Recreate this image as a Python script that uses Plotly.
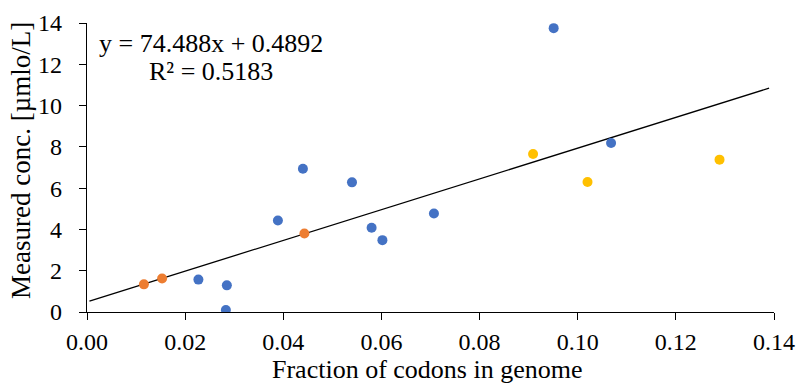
import plotly.graph_objects as go

# Data
blue_x = [0.0440, 0.0540, 0.0389, 0.0580, 0.0602, 0.0227, 0.0285, 0.0283, 0.0951, 0.1068, 0.0707]
blue_y = [6.94, 6.28, 4.43, 4.08, 3.48, 1.57, 1.29, 0.10, 13.75, 8.19, 4.77]
orange_x = [0.0116, 0.0153, 0.0443]
orange_y = [1.34, 1.62, 3.80]
yellow_x = [0.0909, 0.1020, 0.1289]
yellow_y = [7.65, 6.30, 7.38]

slope = 74.488
intercept = 0.4892
trend_x = [0.0005, 0.139]
trend_y = [slope * x + intercept for x in trend_x]

x_ticks = [0.00, 0.02, 0.04, 0.06, 0.08, 0.10, 0.12, 0.14]
y_ticks = [0, 2, 4, 6, 8, 10, 12, 14]

FONT = "Liberation Serif"

fig = go.Figure()
fig.add_trace(go.Scatter(x=trend_x, y=trend_y, mode="lines",
                         line=dict(color="black", width=1.3), hoverinfo="skip"))
for xs, ys, c in [(blue_x, blue_y, "#4472C4"), (orange_x, orange_y, "#ED7D31"),
                  (yellow_x, yellow_y, "#FFC000")]:
    fig.add_trace(go.Scatter(x=xs, y=ys, mode="markers",
                             marker=dict(color=c, size=10, line=dict(width=0))))

# Trendline equation and R²
fig.add_annotation(x=0.0252, y=13.0, xref="x", yref="y",
                   text="y = 74.488x + 0.4892", showarrow=False,
                   xanchor="center", yanchor="middle",
                   font=dict(family=FONT, size=26, color="black"))
fig.add_annotation(x=0.0252, y=11.65, xref="x", yref="y",
                   text="R² = 0.5183", showarrow=False,
                   xanchor="center", yanchor="middle",
                   font=dict(family=FONT, size=26, color="black"))

# Axis titles
fig.add_annotation(x=0.496, y=-0.198, xref="paper", yref="paper",
                   text="Fraction of codons in genome", showarrow=False,
                   xanchor="center", yanchor="middle",
                   font=dict(family=FONT, size=26, color="black"))
fig.add_annotation(x=-0.095, y=0.525, xref="paper", yref="paper",
                   text="Measured conc. [µmlo/L]", showarrow=False, textangle=-90,
                   xanchor="center", yanchor="middle",
                   font=dict(family=FONT, size=27, color="black"))

fig.update_layout(
    width=798, height=383,
    margin=dict(l=87, r=24, t=23, b=71),
    paper_bgcolor="white", plot_bgcolor="white",
    showlegend=False,
    font=dict(family=FONT, color="black"),
)
fig.update_xaxes(range=[0, 0.14], tickvals=x_ticks,
                 ticktext=[f"{v:.2f}" for v in x_ticks],
                 showgrid=False, zeroline=False, showline=True, automargin=False,
                 linecolor="black", linewidth=1.3,
                 ticks="outside", ticklen=7, tickcolor="black", tickwidth=1.3,
                 ticklabelstandoff=1,
                 tickfont=dict(family=FONT, size=24, color="black"))
fig.update_yaxes(range=[0, 14], tickvals=y_ticks,
                 showgrid=False, zeroline=False, showline=True, automargin=False,
                 linecolor="black", linewidth=1.3,
                 ticks="outside", ticklen=7, tickcolor="black", tickwidth=1.3,
                 ticklabelstandoff=12,
                 tickfont=dict(family=FONT, size=24, color="black"))

fig.write_html("out.html")
